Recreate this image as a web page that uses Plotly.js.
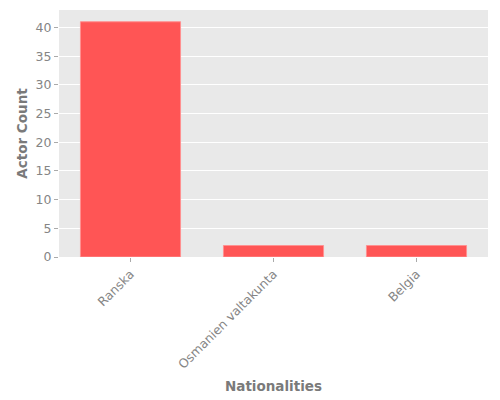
<!DOCTYPE html>
<html>
<head>
<meta charset="utf-8">
<script src="https://cdn.plot.ly/plotly-3.0.1.min.js"></script>
<style>
  html, body { margin: 0; padding: 0; background: #fff; }
  #chart { width: 500px; height: 400px; }
</style>
</head>
<body>
<div id="chart"></div>
<script>
// nationalities and how many actors each has
var nationalities = ['Ranska', 'Osmanien valtakunta', 'Belgia'];
var actorCounts = [41, 2, 2];
var xTitle = 'Nationalities';
var yTitle = 'Actor Count';

var trace = {
  x: nationalities,
  y: actorCounts,
  type: 'bar',
  width: 0.7,
  marker: {
    color: '#ff5555',
    line: { color: '#ff9090', width: 1 }
  },
  hoverinfo: 'x+y'
};

var gray = '#858585';

var layout = {
  width: 500,
  height: 400,
  margin: { l: 59, r: 12, t: 10, b: 143 },
  paper_bgcolor: '#ffffff',
  plot_bgcolor: '#e9e9e9',
  font: { family: 'DejaVu Sans, sans-serif', size: 12, color: gray },
  showlegend: false,
  xaxis: {
    range: [-0.5, 2.5],
    tickangle: -45,
    ticks: 'outside',
    ticklen: 4,
    tickcolor: '#aaaaaa',
    showgrid: false,
    zeroline: false,
    showline: false,
    tickfont: { size: 12.5, color: gray }
  },
  yaxis: {
    range: [0, 43.05],
    dtick: 5,
    ticks: 'outside',
    ticklen: 4,
    tickcolor: '#aaaaaa',
    gridcolor: '#ffffff',
    gridwidth: 1,
    zeroline: false,
    showline: false,
    tickfont: { size: 12.5, color: gray },
    title: {
      text: '<b>' + yTitle + '</b>',
      font: { size: 13.5, color: '#7a7a7a' },
      standoff: 4
    }
  },
  // x title as annotation so it sits where the reference has it
  annotations: [{
    text: '<b>' + xTitle + '</b>',
    xref: 'paper', yref: 'paper',
    x: 0.5, y: -0.522,
    xanchor: 'center', yanchor: 'middle',
    showarrow: false,
    font: { size: 13.5, color: '#7a7a7a' }
  }]
};

Plotly.newPlot('chart', [trace], layout, { displayModeBar: false, staticPlot: true });
</script>
</body>
</html>
